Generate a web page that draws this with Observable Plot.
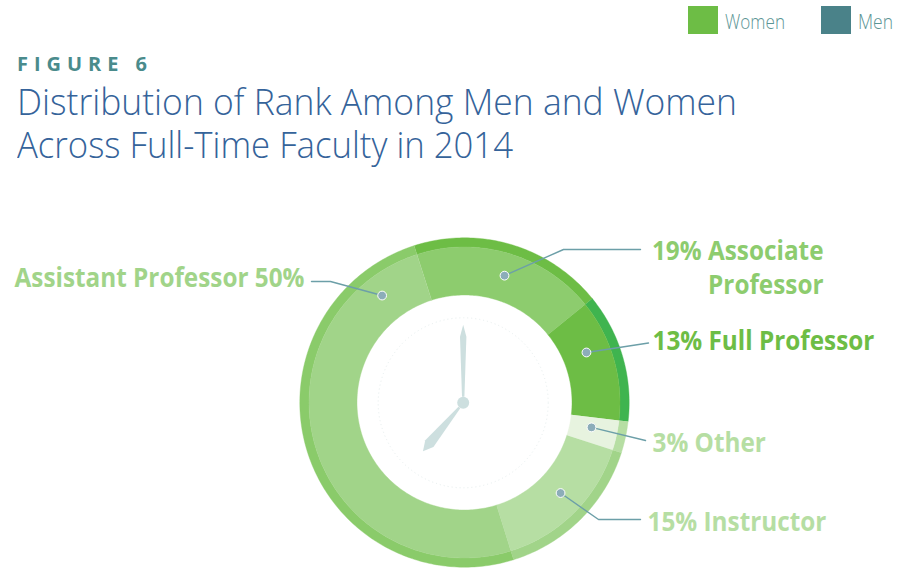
<!DOCTYPE html>
<html><head><meta charset="utf-8">
<style>
html,body{margin:0;background:#fff}
#page{position:relative;width:907px;height:568px;overflow:hidden;font-family:"Open Sans",sans-serif}
#head{position:relative;height:190px}
#head div{position:absolute;white-space:nowrap;transform-origin:0 50%}
#chart{position:absolute;left:0;top:190px}
</style>
<script src="https://cdn.jsdelivr.net/npm/d3@7"></script>
<script src="https://cdn.jsdelivr.net/npm/@observablehq/plot@0.6"></script>
</head><body><div id="page"><div id="head"></div><div id="chart"></div></div>
<script>
// Data (clockwise from the Assistant / Associate boundary)
const ranks = ["Associate Professor","Full Professor","Other","Instructor","Assistant Professor"];
const percents = [19,13,3,15,50];
const drawnShares = [19.08,12.7,3.1,15.25,49.87];
const labels = ["19% Associate\nProfessor","13% Full Professor","3% Other","15% Instructor","Assistant Professor 50%"];
const innerColors = ["#8dcc6e","#6dbd45","#e7f3df","#b6dea3","#a1d489"];
const outerColors = ["#6dbd45","#3fb44f","#b6dea3","#a1d489","#8acb6a"];
const labelColors = ["#8dcc6e","#6dbd45","#b6dea3","#b6dea3","#a1d489"];
const legendNames = ["Women","Men"];
const legendColors = ["#6dbd45","#4a8289"];
const figure = "FIGURE 6";
const titleLines = ["Distribution of Rank Among Men and Women","Across Full-Time Faculty in 2014"];

// Layout
const cx=464, cy=402, rOuter=164.7, rBand=155.5, rHole=107.5, startDeg=342.2;
const clockX=462.7, clockY=402.3;
const polar=(deg,r,x0=cx,y0=cy)=>({x:x0+r*Math.sin(deg*Math.PI/180),y:y0-r*Math.cos(deg*Math.PI/180)});
const labelAnchors=[[823,266,"end"],[652,339,"start"],[652,441,"start"],[647,520,"start"],[304,276,"end"]];
const dotPolar=[[17.5,133],[67.7,131.8],[101.1,129.4],[133.3,132],[322.4,135]];
const leaderPaths=[[[563,249],[640,249]],[[648,342.5]],[[645,440]],[[598,519],[640,519]],[[330,281],[311,281]]];

// Header
const head=document.getElementById("head");
function add(text,css,targetWidth){
  const d=document.createElement("div");d.textContent=text;d.style.cssText=css;head.appendChild(d);
  if(targetWidth){const w=d.getBoundingClientRect().width;d.style.transform=`scaleX(${targetWidth/w})`;}
}
[[688,725,60],[821,858,35]].forEach(([sx,tx,w],i)=>{
  add("",`left:${sx}px;top:6px;width:30px;height:28px;background:${legendColors[i]}`);
  add(legendNames[i],`left:${tx}px;top:9px;font-size:20px;line-height:26px;font-weight:300;color:#5c9595`,w);
});
add(figure,"left:17px;top:51px;font-size:20px;line-height:26px;font-weight:700;letter-spacing:6px;color:#4a8b8c",136);
[720,496].forEach((w,i)=>add(titleLines[i],`left:17px;top:${80+i*43}px;font-size:37px;line-height:42px;font-weight:300;color:#35639a`,w));

// Slices from the data
function ring(r0,r1,colors){
  const pts=[];let a=startDeg;
  drawnShares.forEach((s,i)=>{
    const a1=a+s*3.6,n=Math.ceil(a1-a);
    const deg=d3.range(n+1).map(k=>a+(a1-a)*k/n);
    deg.forEach(d=>pts.push({...polar(d,r1),rank:ranks[i],c:colors[i]}));
    deg.slice().reverse().forEach(d=>pts.push({...polar(d,r0),rank:ranks[i],c:colors[i]}));
    a=a1;
  });
  return pts;
}
const dots=dotPolar.map(([d,r])=>polar(d,r));
const leaders=dots.flatMap((p,i)=>[p,...leaderPaths[i].map(([x,y])=>({x,y}))].map(q=>({...q,rank:ranks[i]})));
const texts=labels.map((t,i)=>({t,x:labelAnchors[i][0],y:labelAnchors[i][1],anchor:labelAnchors[i][2],c:labelColors[i]}));
const minuteHand=[[0,78],[3.2,66],[1.2,6],[-1.2,6],[-3.2,66]];
const hourDeg=219.7;
const hand=(shape,deg)=>shape.map(([w,r])=>{const p=polar(deg,r,clockX,clockY),t=deg*Math.PI/180;return {x:p.x+w*Math.cos(t),y:p.y+w*Math.sin(t)};});
const hourHand=[[0,63],[5.3,53],[1.2,6],[-1.2,6],[-5.3,53]];

const ringMark=(pts)=>Plot.line(pts,{x:"x",y:"y",z:"rank",fill:"c",stroke:"c",strokeWidth:0.4});
const textMark=(anchor)=>Plot.text(texts.filter(d=>d.anchor===anchor),{x:"x",y:"y",text:"t",fill:"c",textAnchor:anchor,lineAnchor:"middle",fontSize:27,fontWeight:700,lineHeight:1.26});

const svg=Plot.plot({
  width:907,height:378,margin:0,
  style:{fontFamily:"'Open Sans',sans-serif",background:"transparent"},
  x:{domain:[0,907],range:[0,907],axis:null},
  y:{domain:[190,568],range:[0,378],axis:null},
  color:{type:"identity"},
  marks:[
    ringMark(ring(rBand,rOuter,outerColors)),
    ringMark(ring(rHole,rBand,innerColors)),
    Plot.dot([{x:clockX,y:clockY}],{x:"x",y:"y",r:85,fill:"none",stroke:"#e6eeee",strokeWidth:1,strokeDasharray:"1 3"}),
    Plot.line(hand(minuteHand,0),{x:"x",y:"y",fill:"#cddfdf",stroke:"none"}),
    Plot.line(hand(hourHand,hourDeg),{x:"x",y:"y",fill:"#cddfdf",stroke:"none"}),
    Plot.dot([{x:clockX,y:clockY}],{x:"x",y:"y",r:6,fill:"#cddfdf"}),
    Plot.line(leaders,{x:"x",y:"y",z:"rank",stroke:"#6c9fa8",strokeWidth:1.4}),
    Plot.dot(dots,{x:"x",y:"y",r:4.4,fill:"#8cadb9",stroke:"#fff",strokeWidth:1}),
    textMark("start"),textMark("end")
  ]
});
document.getElementById("chart").appendChild(svg);
// Narrow every label by one factor, fitted to the widest label's width in the reference
const textEls=[...svg.querySelectorAll("text")];
const widest=Math.max(...textEls.map(t=>t.getBBox().width));
const k=290/widest;
textEls.forEach(t=>t.setAttribute("transform",(t.getAttribute("transform")||"")+` scale(${k},1)`));
</script></body></html>
